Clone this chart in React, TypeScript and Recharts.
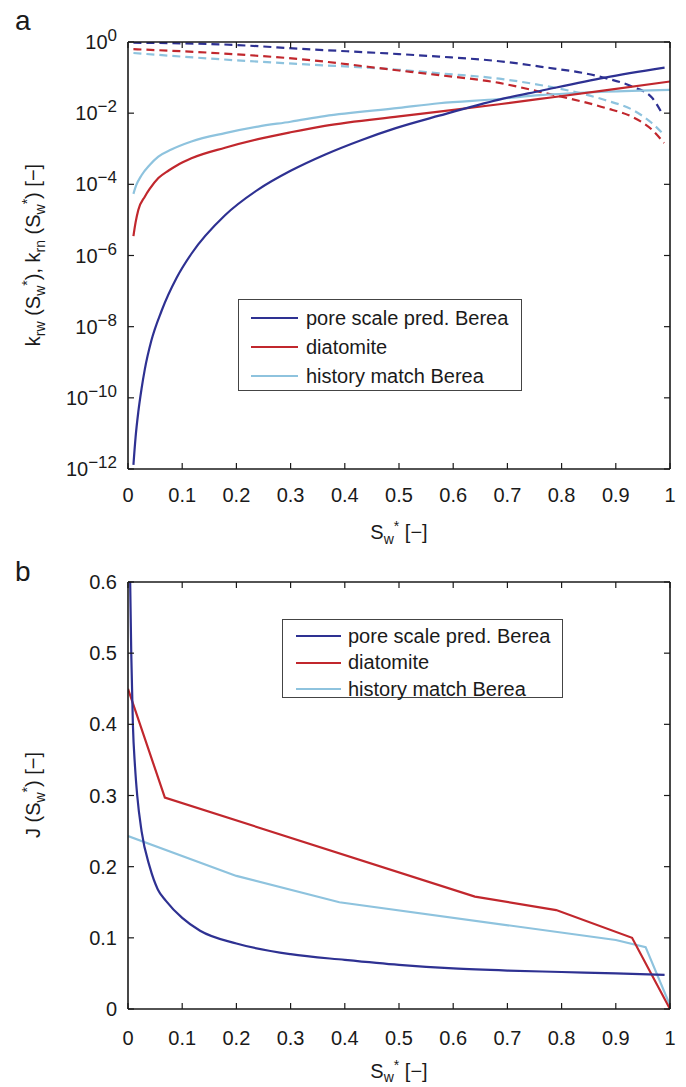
import React from 'react';
import { LineChart, Line, XAxis, YAxis, Legend } from 'recharts';

const FONT = '"Liberation Sans", Arial, Helvetica, sans-serif';
const INK = '#1a1a1a';
const C_BEREA = '#2e3192';
const C_DIAT = '#c1272d';
const C_HIST = '#8ec3de';

const SERIES_NAMES = ['pore scale pred. Berea', 'diatomite', 'history match Berea'];
const SERIES_COLORS = [C_BEREA, C_DIAT, C_HIST];

// ---------- shared x ticks ----------
const X_TICKS = [0, 0.1, 0.2, 0.3, 0.4, 0.5, 0.6, 0.7, 0.8, 0.9, 1];

// ---------- panel a (log scale) ----------
const A_Y_TICKS = [1e-12, 1e-10, 1e-8, 1e-6, 1e-4, 1e-2, 1];

// solid: k_rw
const A_BEREA_KRW_S = [0.01, 0.014, 0.019, 0.025, 0.031, 0.043, 0.062, 0.09, 0.117, 0.179, 0.24, 0.3, 0.363, 0.43, 0.494, 0.574, 0.685, 0.76, 0.88, 0.99];
const A_BEREA_KRW = [1.3e-12, 7.9e-12, 4.0e-11, 1.8e-10, 6.3e-10, 4.0e-9, 2.8e-8, 2.4e-7, 1.12e-6, 1.35e-5, 7.1e-5, 2.4e-4, 6.8e-4, 1.74e-3, 3.8e-3, 8.5e-3, 2.4e-2, 4.2e-2, 0.1, 0.19];

const A_DIAT_KRW_S = [0.01, 0.014, 0.019, 0.031, 0.04, 0.056, 0.075, 0.09, 0.117, 0.179, 0.24, 0.3, 0.363, 0.5, 0.574, 0.685, 0.76, 0.88, 1.0];
const A_DIAT_KRW = [3.5e-6, 8.5e-6, 1.9e-5, 4.5e-5, 7.4e-5, 1.5e-4, 2.45e-4, 3.4e-4, 5.4e-4, 1.07e-3, 1.86e-3, 2.9e-3, 4.4e-3, 8.1e-3, 1.1e-2, 1.78e-2, 2.51e-2, 4.37e-2, 7.76e-2];

const A_HIST_KRW_S = [0.01, 0.015, 0.025, 0.04, 0.056, 0.08, 0.117, 0.179, 0.24, 0.3, 0.363, 0.5, 0.574, 0.685, 0.76, 0.88, 1.0];
const A_HIST_KRW = [5.4e-5, 9.3e-5, 1.8e-4, 3.5e-4, 6.0e-4, 9.5e-4, 1.6e-3, 2.75e-3, 4.2e-3, 5.75e-3, 8.3e-3, 1.41e-2, 1.9e-2, 2.5e-2, 3.2e-2, 4.0e-2, 4.5e-2];

// dashed: k_rn
const A_BEREA_KRN_S = [0.01, 0.194, 0.317, 0.5, 0.574, 0.685, 0.76, 0.88, 0.93, 0.967, 0.985];
const A_BEREA_KRN = [0.955, 0.83, 0.645, 0.457, 0.389, 0.288, 0.204, 0.098, 0.056, 0.027, 0.01];

const A_DIAT_KRN_S = [0.01, 0.194, 0.317, 0.5, 0.574, 0.685, 0.76, 0.88, 0.93, 0.967, 0.989];
const A_DIAT_KRN = [0.63, 0.457, 0.331, 0.158, 0.117, 0.0708, 0.0398, 0.0141, 0.0079, 0.0034, 0.00145];

const A_HIST_KRN_S = [0.01, 0.194, 0.317, 0.5, 0.574, 0.685, 0.76, 0.88, 0.93, 0.967, 0.989];
const A_HIST_KRN = [0.49, 0.31, 0.24, 0.166, 0.132, 0.093, 0.062, 0.0234, 0.0126, 0.0052, 0.00245];

// ---------- panel b (linear) ----------
const B_Y_TICKS = [0, 0.1, 0.2, 0.3, 0.4, 0.5, 0.6];

const B_BEREA_S = [0.004, 0.006, 0.009, 0.013, 0.017, 0.025, 0.04, 0.055, 0.07, 0.1, 0.133, 0.2, 0.3, 0.4, 0.5, 0.6, 0.7, 0.8, 0.9, 0.99];
const B_BEREA_J = [0.6, 0.5, 0.4, 0.34, 0.3, 0.25, 0.2, 0.168, 0.152, 0.128, 0.11, 0.092, 0.077, 0.069, 0.062, 0.057, 0.054, 0.052, 0.05, 0.048];

const B_DIAT_S = [0, 0.068, 0.64, 0.79, 0.93, 1.0];
const B_DIAT_J = [0.45, 0.297, 0.158, 0.139, 0.1, 0.0];

const B_HIST_S = [0, 0.2, 0.39, 0.9, 0.955, 1.0];
const B_HIST_J = [0.243, 0.187, 0.15, 0.097, 0.087, 0.005];

const zip = (xs: number[], ys: number[]) => xs.map((s, i) => ({ s, v: ys[i] }));

const fmtX = (v: number) => (v === 0 ? '0' : v === 1 ? '1' : v.toFixed(1));

const BottomTick = (props: any, off: number) => {
  const { x, y, payload } = props;
  return (
    <g>
      <line x1={x} y1={y} x2={x} y2={y - 6} stroke={INK} strokeWidth={1.2} />
      <text x={x} y={y + off} textAnchor="middle" fontSize={20} fontFamily={FONT} fill={INK}>
        {fmtX(payload.value)}
      </text>
    </g>
  );
};

const TopTick = (props: any) => {
  const { x, y } = props;
  return <line x1={x} y1={y} x2={x} y2={y + 6} stroke={INK} strokeWidth={1.2} />;
};

const RightTick = (props: any) => {
  const { x, y } = props;
  return <line x1={x} y1={y} x2={x - 6} y2={y} stroke={INK} strokeWidth={1.2} />;
};

const LogLeftTick = (props: any) => {
  const { x, y, payload } = props;
  const e = Math.round(Math.log10(payload.value));
  const es = e < 0 ? '\u2212' + Math.abs(e) : String(e);
  return (
    <g>
      <line x1={x} y1={y} x2={x + 6} y2={y} stroke={INK} strokeWidth={1.2} />
      <text x={x - 11} y={y + 7} textAnchor="end" fontSize={20} fontFamily={FONT} fill={INK}>
        <tspan>10</tspan>
        <tspan dy={-8} fontSize={17}>{es}</tspan>
      </text>
    </g>
  );
};

const LinLeftTick = (props: any) => {
  const { x, y, payload } = props;
  const v = payload.value;
  return (
    <g>
      <line x1={x} y1={y} x2={x + 6} y2={y} stroke={INK} strokeWidth={1.2} />
      <text x={x - 11} y={y + 7} textAnchor="end" fontSize={20} fontFamily={FONT} fill={INK}>
        {v === 0 ? '0' : v.toFixed(1)}
      </text>
    </g>
  );
};

const LegendBox = (cfg: { width: number; height: number; rowH: number; padTop: number; padLeft: number; sample: number; gap: number }) => () => (
  <div
    style={{
      boxSizing: 'border-box',
      width: cfg.width,
      height: cfg.height,
      border: '1.3px solid #444',
      background: '#fff',
      paddingTop: cfg.padTop,
      paddingLeft: cfg.padLeft,
      fontFamily: FONT,
      fontSize: 20,
      color: INK,
    }}
  >
    {SERIES_NAMES.map((n, i) => (
      <div key={n} style={{ display: 'flex', alignItems: 'center', height: cfg.rowH, whiteSpace: 'nowrap' }}>
        <svg width={cfg.sample} height={4} style={{ marginRight: cfg.gap, flex: 'none' }}>
          <line x1={0} y1={2} x2={cfg.sample} y2={2} stroke={SERIES_COLORS[i]} strokeWidth={2} />
        </svg>
        <span>{n}</span>
      </div>
    ))}
  </div>
);

const axisLine = { stroke: INK, strokeWidth: 1.6 };

const AXIS_COMMON = {
  tickSize: 0,
  tickMargin: 0,
  tickLine: false,
  axisLine,
  interval: 0 as const,
  allowDataOverflow: true,
};

const PanelA = () => (
  <LineChart width={686} height={540} margin={{ top: 41, right: 15, bottom: 0, left: 0 }}>
    <XAxis dataKey="s" type="number" domain={[0, 1]} ticks={X_TICKS} height={71} tick={(p: any) => BottomTick(p, 33)} {...AXIS_COMMON} />
    <XAxis xAxisId="top" orientation="top" dataKey="s" type="number" domain={[0, 1]} ticks={X_TICKS} height={1} tick={TopTick} {...AXIS_COMMON} />
    <YAxis type="number" scale="log" domain={[1e-12, 1]} ticks={A_Y_TICKS} width={128} tick={LogLeftTick} {...AXIS_COMMON} />
    <YAxis yAxisId="right" orientation="right" type="number" scale="log" domain={[1e-12, 1]} ticks={A_Y_TICKS} width={1} tick={RightTick} {...AXIS_COMMON} />
    <Legend
      layout="horizontal"
      verticalAlign="middle"
      align="center"
      wrapperStyle={{ left: 238, top: 299, width: 284, height: 92 }}
      content={LegendBox({ width: 284, height: 92, rowH: 29, padTop: 3.5, padLeft: 12, sample: 47, gap: 8 })}
    />
    <Line data={zip(A_HIST_KRN_S, A_HIST_KRN)} dataKey="v" type="monotone" stroke={C_HIST} strokeWidth={2.2} strokeDasharray="8 5" dot={false} isAnimationActive={false} />
    <Line data={zip(A_DIAT_KRN_S, A_DIAT_KRN)} dataKey="v" type="monotone" stroke={C_DIAT} strokeWidth={2.2} strokeDasharray="8 5" dot={false} isAnimationActive={false} />
    <Line data={zip(A_BEREA_KRN_S, A_BEREA_KRN)} dataKey="v" type="monotone" stroke={C_BEREA} strokeWidth={2.2} strokeDasharray="8 5" dot={false} isAnimationActive={false} />
    <Line data={zip(A_HIST_KRW_S, A_HIST_KRW)} dataKey="v" type="monotone" stroke={C_HIST} strokeWidth={2.2} dot={false} isAnimationActive={false} />
    <Line data={zip(A_DIAT_KRW_S, A_DIAT_KRW)} dataKey="v" type="monotone" stroke={C_DIAT} strokeWidth={2.2} dot={false} isAnimationActive={false} />
    <Line data={zip(A_BEREA_KRW_S, A_BEREA_KRW)} dataKey="v" type="monotone" stroke={C_BEREA} strokeWidth={2.2} dot={false} isAnimationActive={false} />
  </LineChart>
);

const PanelB = () => (
  <LineChart width={686} height={547} margin={{ top: 41, right: 15, bottom: 0, left: 0 }}>
    <XAxis dataKey="s" type="number" domain={[0, 1]} ticks={X_TICKS} height={78} tick={(p: any) => BottomTick(p, 36)} {...AXIS_COMMON} />
    <XAxis xAxisId="top" orientation="top" dataKey="s" type="number" domain={[0, 1]} ticks={X_TICKS} height={1} tick={TopTick} {...AXIS_COMMON} />
    <YAxis type="number" domain={[0, 0.6]} ticks={B_Y_TICKS} width={128} tick={LinLeftTick} {...AXIS_COMMON} />
    <YAxis yAxisId="right" orientation="right" type="number" domain={[0, 0.6]} ticks={B_Y_TICKS} width={1} tick={RightTick} {...AXIS_COMMON} />
    <Legend
      layout="horizontal"
      verticalAlign="middle"
      align="center"
      wrapperStyle={{ left: 282, top: 79, width: 281, height: 79 }}
      content={LegendBox({ width: 281, height: 79, rowH: 26.7, padTop: 2.7, padLeft: 13, sample: 45, gap: 7 })}
    />
    <Line data={zip(B_HIST_S, B_HIST_J)} dataKey="v" type="linear" stroke={C_HIST} strokeWidth={2.2} dot={false} isAnimationActive={false} />
    <Line data={zip(B_DIAT_S, B_DIAT_J)} dataKey="v" type="linear" stroke={C_DIAT} strokeWidth={2.2} dot={false} isAnimationActive={false} />
    <Line data={zip(B_BEREA_S, B_BEREA_J)} dataKey="v" type="monotone" stroke={C_BEREA} strokeWidth={2.2} dot={false} isAnimationActive={false} />
  </LineChart>
);

const Titles = () => (
  <svg width={686} height={1087} style={{ position: 'absolute', left: 0, top: 0, pointerEvents: 'none' }} fontFamily={FONT} fill={INK}>
    <text x={15} y={30} fontSize={28}>a</text>
    <text x={15} y={581} fontSize={28}>b</text>
    {/* x labels */}
    <text x={399} y={539} fontSize={20} textAnchor="middle">
      <tspan>S</tspan>
      <tspan dy={5} fontSize={14}>w</tspan>
      <tspan dy={-13} fontSize={14}>*</tspan>
      <tspan dy={8}> [{'\u2212'}]</tspan>
    </text>
    <text x={399} y={1078} fontSize={20} textAnchor="middle">
      <tspan>S</tspan>
      <tspan dy={4} fontSize={14}>w</tspan>
      <tspan dy={-12} fontSize={14}>*</tspan>
      <tspan dy={8}> [{'\u2212'}]</tspan>
    </text>
    {/* y labels */}
    <text transform="translate(40,255) rotate(-90)" fontSize={20} textAnchor="middle">
      <tspan>k</tspan>
      <tspan dy={5} fontSize={14}>rw</tspan>
      <tspan dy={-5}> (S</tspan>
      <tspan dy={5} fontSize={14}>w</tspan>
      <tspan dy={-13} fontSize={14}>*</tspan>
      <tspan dy={8}>), k</tspan>
      <tspan dy={5} fontSize={14}>rn</tspan>
      <tspan dy={-5}> (S</tspan>
      <tspan dy={5} fontSize={14}>w</tspan>
      <tspan dy={-13} fontSize={14}>*</tspan>
      <tspan dy={8}>) [{'\u2212'}]</tspan>
    </text>
    <text transform="translate(40,795) rotate(-90)" fontSize={20} textAnchor="middle">
      <tspan>J (S</tspan>
      <tspan dy={5} fontSize={14}>w</tspan>
      <tspan dy={-13} fontSize={14}>*</tspan>
      <tspan dy={8}>) [{'\u2212'}]</tspan>
    </text>
  </svg>
);

export default function App() {
  return (
    <div style={{ position: 'absolute', left: 0, top: 0, width: 686, height: 1087, background: '#fff', fontFamily: FONT }}>
      <div style={{ position: 'absolute', left: 0, top: 0 }}>
        <PanelA />
      </div>
      <div style={{ position: 'absolute', left: 0, top: 540 }}>
        <PanelB />
      </div>
      <Titles />
    </div>
  );
}
